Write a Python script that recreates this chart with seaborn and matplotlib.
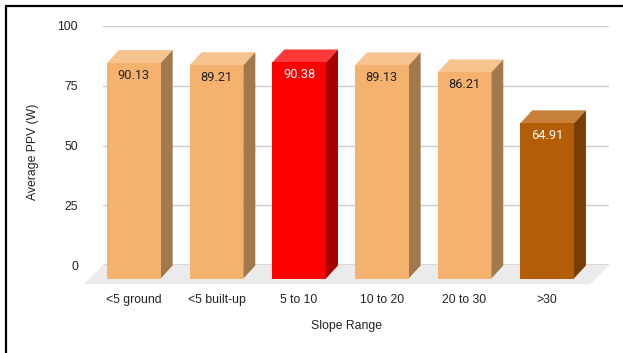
import matplotlib
matplotlib.use("Agg")
import matplotlib.pyplot as plt
from matplotlib.transforms import ScaledTranslation
from matplotlib.patches import Polygon
from matplotlib.lines import Line2D
import seaborn as sns
import pandas as pd

categories = ["<5 ground", "<5 built-up", "5 to 10", "10 to 20", "20 to 30", ">30"]
values = [90.13, 89.21, 90.38, 89.13, 86.21, 64.91]
front_colors = ["#F5B26E", "#F5B26E", "#FF0000", "#F5B26E", "#F5B26E", "#B35D07"]
top_colors = ["#F7C38E", "#F7C38E", "#FF3838", "#F7C38E", "#F7C38E", "#C7803A"]
side_colors = ["#A3784A", "#A3784A", "#A80000", "#A3784A", "#A3784A", "#773E05"]
label_colors = ["#222222", "#222222", "#FFFFFF", "#222222", "#222222", "#FFFFFF"]
y_ticks = [0, 25, 50, 75, 100]
x_title = "Slope Range"
y_title = "Average PPV (W)"

sns.set_theme(style="white")
plt.rcParams["font.family"] = ["Liberation Sans", "DejaVu Sans"]

W, H, DPI = 623, 353, 100
fig = plt.figure(figsize=(W / DPI, H / DPI), dpi=DPI)
fig.patch.set_facecolor("white")
ax = fig.add_axes([103 / W, (H - 265) / H, 506 / W, 239 / H])

df = pd.DataFrame({"cat": categories, "val": values})
sns.barplot(data=df, x="cat", y="val", hue="cat", palette=front_colors,
            width=0.65, saturation=1, legend=False, ax=ax, zorder=3)
bars = list(ax.patches)

ax.set_xlim(-0.524, 5.598)
ax.set_ylim(0, 100)

# pixel -> data units
p0 = ax.transData.transform((0, 0))
p1 = ax.transData.transform((1, 1))
ux = 1.0 / (p1[0] - p0[0])
uy = 1.0 / (p1[1] - p0[1])

fx, fy = 12.5, 13.5   # front face offset (px)
bx, by = 0.5, 0.5     # back face offset (px)
front_off = ScaledTranslation(-fx / DPI, -fy / DPI, fig.dpi_scale_trans)

# floor
floor_depth = 19
x_left, x_right = ax.get_xlim()
floor = Polygon([(x_left, 0), (x_right, 0),
                 (x_right - floor_depth * ux, -floor_depth * uy),
                 (x_left - floor_depth * ux, -floor_depth * uy)],
                closed=True, facecolor="#EBEBEB", edgecolor="none",
                zorder=1, clip_on=False)
ax.add_patch(floor)

# gridlines
for t in y_ticks[1:]:
    ax.axhline(t, color="#CCCCCC", lw=1.0, zorder=0.5)
ax.axhline(0, color="#333333", lw=1.0, zorder=1.5)

# 3D faces
for i, bar in enumerate(bars):
    x0 = bar.get_x()
    w = bar.get_width()
    v = bar.get_height()
    x1 = x0 + w
    bar.set_transform(ax.transData + front_off)
    bar.set_clip_on(False)
    bar.set_edgecolor("none")
    bar.set_zorder(4)
    top = Polygon([(x0 - fx * ux, v - fy * uy), (x1 - fx * ux, v - fy * uy),
                   (x1 - bx * ux, v - by * uy), (x0 - bx * ux, v - by * uy)],
                  closed=True, facecolor=top_colors[i], edgecolor="none",
                  zorder=3, clip_on=False)
    side = Polygon([(x1 - fx * ux, v - fy * uy), (x1 - bx * ux, v - by * uy),
                    (x1 - bx * ux, 0 - by * uy), (x1 - fx * ux, 0 - fy * uy)],
                   closed=True, facecolor=side_colors[i], edgecolor="none",
                   zorder=3, clip_on=False)
    ax.add_patch(top)
    ax.add_patch(side)
    lbl_off = ScaledTranslation(-fx / DPI, -(fy + 12) / DPI, fig.dpi_scale_trans)
    ax.text(x0 + w / 2, v, f"{values[i]:.2f}", transform=ax.transData + lbl_off,
            ha="center", va="center", fontsize=9.2, color=label_colors[i],
            family=["Roboto", "DejaVu Sans"], zorder=6, clip_on=False)

for s in ax.spines.values():
    s.set_visible(False)

ax.set_yticks(y_ticks)
ax.set_yticklabels([str(t) for t in y_ticks])
ax.tick_params(axis="y", length=0, pad=18, labelsize=8.8, labelcolor="#222222")
ax.tick_params(axis="x", length=0, pad=21, labelsize=8.8, labelcolor="#222222")
for lab in ax.get_xticklabels():
    lab.set_transform(lab.get_transform() +
                      ScaledTranslation(-fx / DPI, 0, fig.dpi_scale_trans))

ax.set_xlabel("")
ax.set_ylabel("")
fig.text(346.7 / W, 1 - 326.5 / H, x_title, ha="center", va="center",
         fontsize=8.8, color="#222222")
fig.text(33 / W, 1 - 152 / H, y_title, ha="center", va="center",
         rotation=90, fontsize=8.8, color="#222222")

# outer frame lines
fig.add_artist(Line2D([6 / W, 1], [1 - 6 / H, 1 - 6 / H], transform=fig.transFigure,
                      color="black", lw=1.6))
fig.add_artist(Line2D([6 / W, 6 / W], [0, 1 - 6 / H], transform=fig.transFigure,
                      color="black", lw=1.6))

fig.savefig("out.png", dpi=DPI, facecolor="white")
